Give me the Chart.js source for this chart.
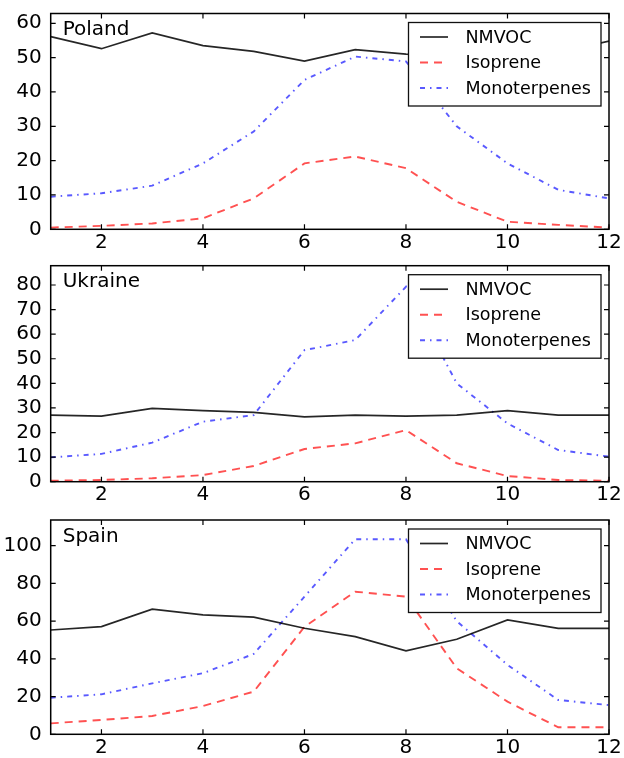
<!DOCTYPE html>
<html><head><meta charset="utf-8">
<script src="https://cdn.jsdelivr.net/npm/chart.js@4/dist/chart.umd.min.js"></script>
<style>
html,body{margin:0;padding:0;background:#fff;width:624px;height:758px;overflow:hidden}
canvas{position:absolute;left:0}
</style></head><body>
<canvas id="c1" width="624" height="250" style="top:0"></canvas>
<canvas id="c2" width="624" height="250" style="top:250px"></canvas>
<canvas id="c3" width="624" height="258" style="top:500px"></canvas>
<script>
const months = [1,2,3,4,5,6,7,8,9,10,11,12];
const seriesNames = ['NMVOC','Isoprene','Monoterpenes'];
const xTickValues = [2,4,6,8,10,12];

const polandNMVOC = [56.1,52.6,57.2,53.5,51.8,49.0,52.3,51.0,50.5,51.5,51.5,54.8];
const polandIsoprene = [0.5,1.0,1.7,3.2,9.0,19.2,21.2,17.8,8.0,2.2,1.3,0.5];
const polandMono = [9.5,10.5,12.7,19.2,28.5,43.5,50.3,48.9,30.0,19.2,11.5,9.0];
const polandYTicks = [0,10,20,30,40,50,60];

const ukraineNMVOC = [27.1,26.7,29.8,28.9,28.2,26.4,27.1,26.7,27.1,28.9,27.1,27.1];
const ukraineIsoprene = [0.4,0.7,1.4,2.7,6.4,13.3,15.6,21.0,7.5,2.3,0.7,0.4];
const ukraineMono = [9.9,11.3,15.9,24.4,27.1,53.5,57.6,79.3,40.0,23.7,12.9,10.2];
const ukraineYTicks = [0,10,20,30,40,50,60,70,80];

const spainNMVOC = [55.3,57.1,66.3,63.3,62.1,56.2,51.8,44.2,50.4,60.6,56.2,56.2];
const spainIsoprene = [5.8,7.6,9.7,15.0,22.6,57.0,75.6,73.0,35.0,17.3,3.7,3.7];
const spainMono = [19.4,21.2,27.0,32.4,42.6,73.0,103.4,103.4,60.0,36.8,18.2,15.5];
const spainYTicks = [0,20,40,60,80,100];

const FONT = "'DejaVu Sans', sans-serif";
const styles = [
  {color:'rgba(0,0,0,0.85)', width:1.7, dash:[]},
  {color:'rgba(255,50,50,0.85)', width:1.9, dash:[8,6]},
  {color:'rgba(60,60,255,0.85)', width:1.9, dash:[5,5,1.5,5]}
];

function decorPlugin(title){
  return {
    id:'decor',
    afterDatasetsDraw(chart){
      const ctx = chart.ctx, a = chart.chartArea;
      const xs = chart.scales.x, ys = chart.scales.y;
      ctx.save();
      ctx.strokeStyle = '#000'; ctx.lineWidth = 1.2; ctx.setLineDash([]);
      ctx.beginPath();
      xs.ticks.forEach(t=>{
        const p = xs.getPixelForValue(t.value);
        ctx.moveTo(p,a.bottom); ctx.lineTo(p,a.bottom-5);
        ctx.moveTo(p,a.top); ctx.lineTo(p,a.top+5);
      });
      ys.ticks.forEach(t=>{
        const p = ys.getPixelForValue(t.value);
        ctx.moveTo(a.left,p); ctx.lineTo(a.left+5,p);
        ctx.moveTo(a.right,p); ctx.lineTo(a.right-5,p);
      });
      ctx.stroke();
      ctx.lineWidth = 1.5;
      ctx.strokeRect(a.left,a.top,a.right-a.left,a.bottom-a.top);
      // legend
      const bx = a.right-200.5, by = a.top+9, bw = 192.5, bh = 83.5;
      ctx.fillStyle = '#fff';
      ctx.fillRect(bx,by,bw,bh);
      ctx.lineWidth = 1.3; ctx.strokeStyle = '#111';
      ctx.strokeRect(bx,by,bw,bh);
      ctx.font = '17.5px ' + FONT;
      ctx.textBaseline = 'middle'; ctx.textAlign = 'left';
      chart.data.datasets.forEach((d,i)=>{
        const ry = by + 14.5 + i*25.5;
        ctx.strokeStyle = d.borderColor; ctx.lineWidth = d.borderWidth;
        ctx.setLineDash(d.borderDash || []);
        ctx.beginPath(); ctx.moveTo(bx+11.5,ry); ctx.lineTo(bx+39.5,ry); ctx.stroke();
        ctx.setLineDash([]);
        ctx.fillStyle = '#000';
        ctx.fillText(d.label, bx+57, ry+1);
      });
      // title
      ctx.font = '20px ' + FONT;
      ctx.textBaseline = 'alphabetic';
      ctx.fillStyle = '#000';
      ctx.fillText(title, a.left+12, a.top+21.5);
      ctx.restore();
    }
  };
}

function makeChart(id, title, series, yTicks, yMax, top, bottom, H){
  return new Chart(document.getElementById(id), {
    type:'line',
    data:{datasets: series.map((s,i)=>({
      label: seriesNames[i],
      data: months.map((m,k)=>({x:m, y:s[k]})),
      borderColor: styles[i].color,
      borderWidth: styles[i].width,
      borderDash: styles[i].dash,
      pointRadius:0, tension:0, fill:false
    }))},
    options:{
      responsive:false, animation:false, devicePixelRatio:1,
      layout:{padding:{top:top, right:15, bottom:0, left:0}},
      plugins:{legend:{display:false}, tooltip:{enabled:false}, title:{display:false}},
      scales:{
        x:{type:'linear', min:1, max:12,
          grid:{display:false}, border:{display:false},
          afterBuildTicks: s=>{ s.ticks = xTickValues.map(v=>({value:v})); },
          afterFit: s=>{ s.height = H - bottom; },
          ticks:{font:{family:FONT, size:20}, color:'#000', padding:-7, maxRotation:0, autoSkip:false}
        },
        y:{type:'linear', min:0, max:yMax,
          grid:{display:false}, border:{display:false},
          afterBuildTicks: s=>{ s.ticks = yTicks.map(v=>({value:v})); },
          afterFit: s=>{ s.width = 50.7; },
          ticks:{font:{family:FONT, size:20}, color:'#000', padding:1, autoSkip:false}
        }
      }
    },
    plugins:[decorPlugin(title)]
  });
}

makeChart('c1','Poland',[polandNMVOC,polandIsoprene,polandMono],polandYTicks,62.85,13.5,229.3,250);
makeChart('c2','Ukraine',[ukraineNMVOC,ukraineIsoprene,ukraineMono],ukraineYTicks,87.85,15.7,231.7,250);
makeChart('c3','Spain',[spainNMVOC,spainIsoprene,spainMono],spainYTicks,113.6,20,234.3,258);
</script>
</body></html>
